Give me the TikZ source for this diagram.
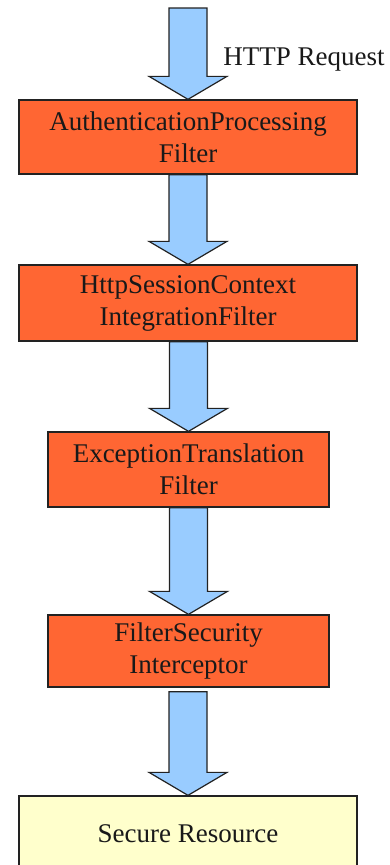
\documentclass[tikz,border=0pt]{standalone}
\usepackage{fontspec}
\setmainfont{Liberation Serif}
\usetikzlibrary{calc}

\definecolor{filterfill}{HTML}{FF6633}
\definecolor{flowfill}{HTML}{99CCFF}
\definecolor{resourcefill}{HTML}{FFFFCC}
\definecolor{edge}{HTML}{222222}

\tikzset{
  boxbase/.style={draw=edge, line width=1.3pt, align=center, inner sep=0pt,
    text=black!90, font=\fontsize{27}{32}\selectfont},
  filterbox/.style={boxbase, fill=filterfill},
  widebox/.style={minimum width=338pt},
  narrowbox/.style={minimum width=281pt},
  resourcebox/.style={boxbase, fill=resourcefill},
  flowarrow/.style={draw=edge, line width=1.2pt, fill=flowfill, line join=miter},
  caption/.style={font=\fontsize{27}{30}\selectfont, text=black!90, inner sep=0pt}
}

% block arrow from a start point down to the top of a box
\newcommand\blockarrow[2]{%
  \path[flowarrow] let \p1=(#1), \p2=(#2) in
    (\x2-19pt,\y1) -- (\x2-19pt,\y2+23pt) -- (\x2-39pt,\y2+23pt) --
    (\x2,\y2) -- (\x2+39pt,\y2+23pt) -- (\x2+19pt,\y2+23pt) --
    (\x2+19pt,\y1) -- cycle;%
}

\begin{document}
\begin{tikzpicture}[x=1pt, y=-1pt]
  \useasboundingbox (0,0) rectangle (390,865);
  \fill[white] (0,0) rectangle (390,865);

  \begin{scope}
    \clip (0,0) rectangle (390,865);

    \node[filterbox, widebox, minimum height=74pt] (auth) at (188,137)
      {AuthenticationProcessing\\Filter};
    \node[filterbox, widebox, minimum height=76pt] (session) at (188,303)
      {HttpSessionContext\\IntegrationFilter};
    \node[filterbox, narrowbox, minimum height=75pt] (exc) at (188.5,469.5)
      {ExceptionTranslation\\Filter};
    \node[filterbox, narrowbox, minimum height=72pt] (fsi) at (188.5,651)
      {FilterSecurity\\Interceptor};
    \node[resourcebox, widebox, minimum height=76pt] (res) at (188,834)
      {Secure Resource};

    \coordinate (req) at (188,8);
    \coordinate (fsiout) at ($(fsi.south)+(0,4)$);

    \blockarrow{req}{auth.north}
    \blockarrow{auth.south}{session.north}
    \blockarrow{session.south}{exc.north}
    \blockarrow{exc.south}{fsi.north}
    \blockarrow{fsiout}{res.north}

    \node[caption, anchor=base] (reqlabel) at (304,65) {HTTP Request};
  \end{scope}
\end{tikzpicture}
\end{document}
